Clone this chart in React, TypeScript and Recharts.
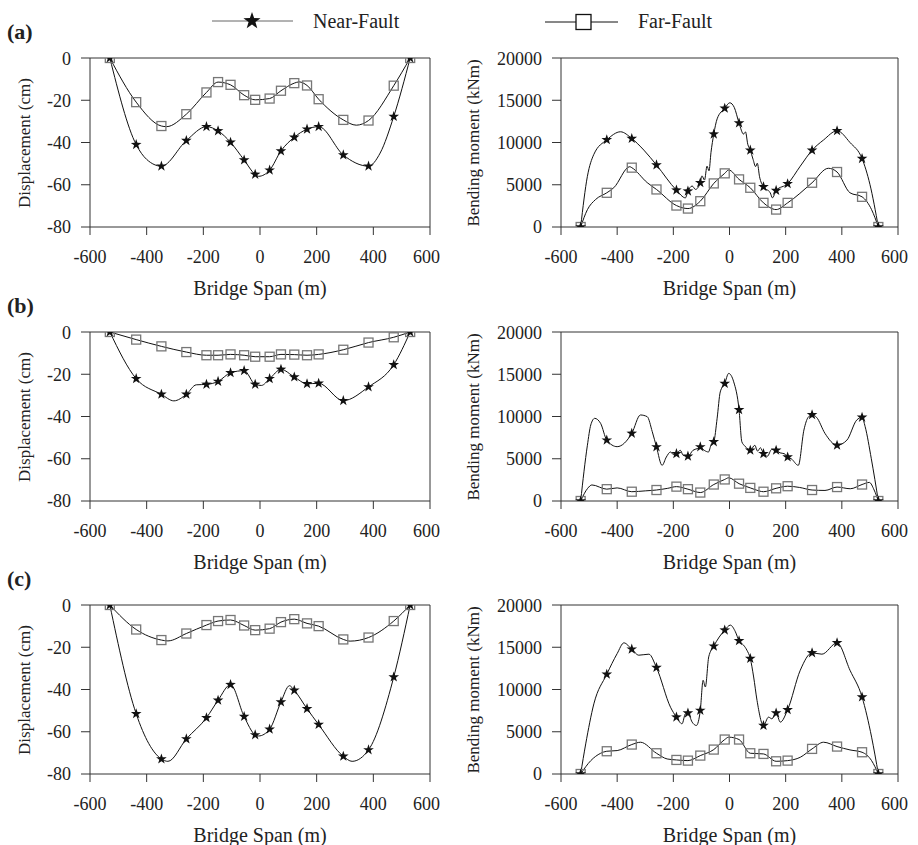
import React from 'react';
import { ComposedChart, Line, XAxis, YAxis, ReferenceLine } from 'recharts';

// pier positions along the span where the markers sit (m)
const spanMarks = [-530, -437, -348, -260, -189, -148, -104, -56, -17, 34, 74, 121, 166, 207, 294, 383, 472, 530];
const spanTicks = [-600, -400, -200, 0, 200, 400, 600];
const dispTicks = [-80, -60, -40, -20, 0];
const momentTicks = [0, 5000, 10000, 15000, 20000];

// displacement (cm), values at spanMarks + extra curve points read between markers
const dispNearA = [0, -41, -51.2, -39.1, -32.5, -34.5, -39.9, -48.3, -55.1, -53.1, -44, -37.5, -33.7, -32.5, -45.9, -51.2, -27.7, 0];
const dispNearAExtra: [number, number][] = [[-400, -48], [-5, -56], [424, -45]];
const dispFarA = [0, -20.9, -32.2, -26.6, -16.3, -11.4, -12.7, -17.6, -19.8, -19.2, -15.5, -11.9, -13, -19.5, -29.3, -29.6, -13.1, 0];
const dispFarAExtra: [number, number][] = [[-330, -32.5], [138, -11.3], [340, -31.8]];

const dispNearB = [0, -22.1, -29.5, -29.5, -24.8, -23.4, -19.3, -18.3, -24.8, -22.1, -17.7, -21.3, -24.5, -24.3, -32.5, -26, -15.5, 0];
const dispNearBExtra: [number, number][] = [[-304, -32.6], [-225, -25], [5, -25.3]];
const dispFarB = [0, -3.6, -6.8, -9.5, -11, -11, -10.6, -11, -11.7, -11.7, -10.6, -10.7, -11, -10.6, -8.4, -5, -2.5, 0];
const dispFarBExtra: [number, number][] = [];

const dispNearC = [0, -51.5, -72.9, -63.4, -53.4, -45.1, -37.7, -52.8, -61.5, -58.8, -45.9, -40.4, -49.1, -56.6, -71.6, -68.6, -34.1, 0];
const dispNearCExtra: [number, number][] = [[-325, -74], [-5, -62], [104, -38.2], [325, -74]];
const dispFarC = [0, -11.6, -16.6, -13.5, -9.5, -7.6, -7.1, -9.7, -11.9, -11.2, -8.1, -6.7, -8.7, -10, -16.3, -15.4, -7.6, 0];
const dispFarCExtra: [number, number][] = [[-325, -17], [318, -17.1]];

// bending moment (kNm)
const momentNearA = [0, 10317, 10476, 7341, 4365, 4246, 5238, 10992, 14047, 12301, 9087, 4762, 4325, 5119, 9087, 11388, 8095, 0];
const momentNearAExtra: [number, number][] = [
  [-506, 6000], [-483, 8600], [-388, 11270], [-305, 9100], [-157, 3450], [-133, 4850], [-121, 4450],
  [-98, 6050], [-89, 5550], [-80, 7200], [-73, 6650], [-66, 8800], [-44, 12800], [1, 14700], [17, 14150],
  [50, 11000], [57, 11250], [65, 9800], [84, 8000], [93, 7150], [99, 7550], [107, 5950], [145, 4050],
  [153, 3450], [252, 7200], [335, 10300], [429, 10000], [500, 5050],
];
const momentFarA = [0, 4047, 7023, 4444, 2540, 2182, 3055, 5158, 6349, 5635, 4643, 2857, 2063, 2857, 5238, 6508, 3571, 0];
const momentFarAExtra: [number, number][] = [
  [-506, 2050], [-477, 3250], [-412, 4650], [-355, 7140], [-293, 5250], [-3, 6750], [352, 6950], [429, 4050], [506, 2050],
];

const momentNearB = [0, 7200, 8000, 6400, 5600, 5300, 6400, 7000, 13900, 10800, 6000, 5600, 6000, 5200, 10200, 6600, 9900, 0];
const momentNearBExtra: [number, number][] = [
  [-506, 6600], [-494, 9000], [-480, 9780], [-459, 9190], [-400, 6430], [-317, 10180], [-293, 9980], [-275, 8200],
  [-240, 4220], [-225, 5200], [-210, 5800], [-200, 5500], [-175, 6000], [-165, 5400], [-130, 6000], [-115, 6200],
  [-90, 6000], [-75, 5800], [-65, 6700], [-44, 9800], [-33, 12900], [-3, 15100], [15, 14100], [44, 7000], [55, 6500],
  [90, 6600], [100, 5900], [110, 6300], [135, 5300], [150, 6100], [180, 5700], [195, 5600], [220, 5000], [245, 4220],
  [265, 8400], [280, 9900], [310, 9900], [340, 8000], [418, 7200], [453, 9580], [483, 8800], [505, 5000],
];
const momentFarB = [0, 1400, 1100, 1300, 1700, 1400, 1000, 1950, 2550, 2050, 1550, 1100, 1500, 1750, 1300, 1650, 1950, 0];
const momentFarBExtra: [number, number][] = [
  [-505, 1500], [-490, 1900], [-400, 1550], [-300, 1200], [-220, 1500], [-3, 2750], [95, 1300], [250, 1600],
  [340, 1250], [430, 1450], [498, 2200], [515, 1300],
];

const momentNearC = [0, 11800, 14770, 12593, 6732, 7207, 7524, 15127, 17028, 15761, 13662, 5742, 7207, 7603, 14335, 15523, 9108, 0];
const momentNearCExtra: [number, number][] = [
  [-512, 3560], [-483, 8300], [-400, 14250], [-376, 15520], [-323, 14060], [-287, 14180], [-210, 7900], [-169, 5940],
  [-157, 7130], [-133, 6140], [-118, 5740], [-94, 11090], [-86, 10300], [-74, 13860], [3, 17620], [21, 16830],
  [50, 15250], [62, 14650], [86, 11480], [98, 8710], [139, 6730], [151, 6530], [181, 6140], [252, 12280],
  [329, 14180], [429, 12280], [506, 4360],
];
const momentFarC = [0, 2693, 3485, 2455, 1663, 1584, 2178, 2891, 4079, 4079, 2455, 2376, 1505, 1584, 2970, 3247, 2574, 0];
const momentFarCExtra: [number, number][] = [
  [-494, 1580], [-459, 2450], [-400, 2770], [-317, 3760], [-222, 1780], [-3, 4360], [252, 1980], [335, 3760],
  [429, 2850], [506, 1580],
];

type Pt = { x: number; y: number; m: boolean };

function buildSeries(marks: number[], extra: [number, number][]): Pt[] {
  const pts: Pt[] = spanMarks.map((x, i) => ({ x, y: marks[i], m: true }));
  extra.forEach(([x, y]) => pts.push({ x, y, m: false }));
  return pts.sort((a, b) => a.x - b.x);
}

const FONT = 'Liberation Serif, DejaVu Serif, serif';
const AXIS = '#333';

function starPath(cx: number, cy: number, R: number, r: number) {
  let d = '';
  for (let i = 0; i < 10; i++) {
    const a = -Math.PI / 2 + (i * Math.PI) / 5;
    const rad = i % 2 === 0 ? R : r;
    d += (i === 0 ? 'M' : 'L') + (cx + rad * Math.cos(a)).toFixed(2) + ',' + (cy + rad * Math.sin(a)).toFixed(2);
  }
  return d + 'Z';
}

const StarDot = (p: any) =>
  p.payload && p.payload.m ? (
    <path key={p.index} d={starPath(p.cx, p.cy, 5.6, 2.2)} fill='#111' />
  ) : (
    <g key={p.index} />
  );

const SquareDot = (p: any) =>
  p.payload && p.payload.m ? (
    <rect key={p.index} x={p.cx - 4.5} y={p.cy - 4.5} width={9} height={9} fill='none' stroke='#777' strokeWidth={1.3} />
  ) : (
    <g key={p.index} />
  );

const tickStyle = { fontFamily: FONT, fontSize: 18, fill: '#222' };

function Panel({
  left,
  plotTop,
  near,
  far,
  domain,
  ticks,
  yLabel,
  yLabelX,
  axisWidth,
  width,
}: {
  left: number;
  plotTop: number;
  near: Pt[];
  far: Pt[];
  domain: [number, number];
  ticks: number[];
  yLabel: string;
  yLabelX: number;
  axisWidth: number;
  width: number;
}) {
  const plotH = 169;
  const height = 10 + plotH + 40;
  const plotLeft = left + axisWidth;
  const plotW = width - axisWidth - 10;
  const plotBottom = plotTop + plotH;
  return (
    <>
      <div style={{ position: 'absolute', left, top: plotTop - 10 }}>
        <ComposedChart width={width} height={height} margin={{ top: 10, right: 10, bottom: 0, left: 0 }}>
          <XAxis
            dataKey='x'
            type='number'
            domain={[-600, 600]}
            ticks={spanTicks}
            allowDataOverflow
            height={40}
            tickSize={8}
            tickMargin={15}
            stroke={AXIS}
            tick={tickStyle}
          />
          <YAxis
            type='number'
            domain={domain}
            ticks={ticks}
            allowDataOverflow
            width={axisWidth}
            tickSize={9}
            tickMargin={10}
            stroke={AXIS}
            tick={tickStyle}
          />
          <ReferenceLine y={domain[1]} stroke={AXIS} />
          <ReferenceLine x={600} stroke={AXIS} />
          <Line
            data={far}
            dataKey='y'
            type='monotone'
            stroke='#111'
            strokeWidth={1}
            dot={SquareDot}
            activeDot={false}
            isAnimationActive={false}
          />
          <Line
            data={near}
            dataKey='y'
            type='monotone'
            stroke='#111'
            strokeWidth={1}
            dot={StarDot}
            activeDot={false}
            isAnimationActive={false}
          />
        </ComposedChart>
      </div>
      <div
        style={{
          position: 'absolute',
          left: plotLeft,
          width: plotW,
          top: plotBottom + 49,
          lineHeight: '24px',
          fontSize: 20,
          textAlign: 'center',
          whiteSpace: 'nowrap',
        }}>
        Bridge Span (m)
      </div>
      <div
        style={{
          position: 'absolute',
          left: yLabelX - 120,
          width: 240,
          top: plotTop + plotH / 2 - 12,
          lineHeight: '24px',
          fontSize: 17,
          textAlign: 'center',
          whiteSpace: 'nowrap',
          transform: 'rotate(-90deg)',
        }}>
        {yLabel}
      </div>
    </>
  );
}

const rows = [
  {
    tag: '(a)',
    top: 58,
    dispNear: buildSeries(dispNearA, dispNearAExtra),
    dispFar: buildSeries(dispFarA, dispFarAExtra),
    momNear: buildSeries(momentNearA, momentNearAExtra),
    momFar: buildSeries(momentFarA, momentFarAExtra),
  },
  {
    tag: '(b)',
    top: 332,
    dispNear: buildSeries(dispNearB, dispNearBExtra),
    dispFar: buildSeries(dispFarB, dispFarBExtra),
    momNear: buildSeries(momentNearB, momentNearBExtra),
    momFar: buildSeries(momentFarB, momentFarBExtra),
  },
  {
    tag: '(c)',
    top: 605,
    dispNear: buildSeries(dispNearC, dispNearCExtra),
    dispFar: buildSeries(dispFarC, dispFarCExtra),
    momNear: buildSeries(momentNearC, momentNearCExtra),
    momFar: buildSeries(momentFarC, momentFarCExtra),
  },
];

function FigureLegend() {
  return (
    <svg width={918} height={44} style={{ position: 'absolute', left: 0, top: 0 }}>
      <line x1={212} x2={293} y1={21} y2={21} stroke='#666' strokeWidth={1} />
      <path d={starPath(252, 21, 9, 3.6)} fill='#111' />
      <text x={313} y={28} fontFamily={FONT} fontSize={20} fill='#222'>
        Near-Fault
      </text>
      <line x1={545} x2={618} y1={22} y2={22} stroke='#111' strokeWidth={1} />
      <rect x={576} y={14.5} width={15} height={15} fill='#fff' stroke='#111' strokeWidth={1.3} />
      <text x={638} y={28} fontFamily={FONT} fontSize={20} fill='#222'>
        Far-Fault
      </text>
    </svg>
  );
}

export default function App() {
  return (
    <div
      style={{
        position: 'absolute',
        left: 0,
        top: 0,
        width: 918,
        height: 845,
        background: '#fff',
        fontFamily: FONT,
        color: '#222',
      }}>
      <FigureLegend />
      {rows.map((r) => (
        <React.Fragment key={r.tag}>
          <div
            style={{
              position: 'absolute',
              left: 7,
              top: r.top - 26 - 13,
              lineHeight: '26px',
              fontSize: 22,
              fontWeight: 'bold',
            }}>
            {r.tag}
          </div>
          <Panel
            left={0}
            plotTop={r.top}
            near={r.dispNear}
            far={r.dispFar}
            domain={[-80, 0]}
            ticks={dispTicks}
            yLabel='Displacement (cm)'
            yLabelX={25}
            axisWidth={90}
            width={440}
          />
          <Panel
            left={470}
            plotTop={r.top}
            near={r.momNear}
            far={r.momFar}
            domain={[0, 20000]}
            ticks={momentTicks}
            yLabel='Bending moment (kNm)'
            yLabelX={474}
            axisWidth={91}
            width={438}
          />
        </React.Fragment>
      ))}
    </div>
  );
}
